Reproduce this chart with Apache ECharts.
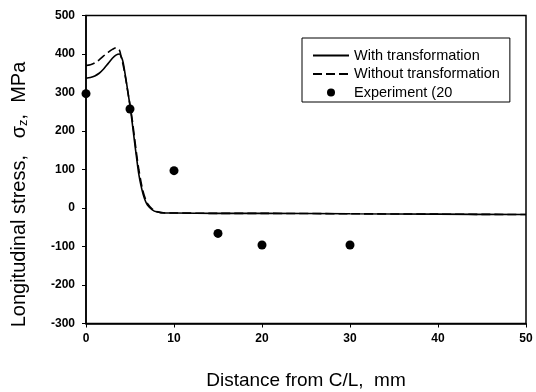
<!DOCTYPE html>
<html>
<head>
<meta charset="utf-8">
<script src="https://cdn.jsdelivr.net/npm/echarts@6/dist/echarts.min.js"></script>
<style>html,body{margin:0;padding:0;background:#fff}#c{width:536px;height:392px}</style>
</head>
<body>
<div id="c"></div>
<script>
// Distance from C/L (mm) for the model curves
const curveX = [0, 0.5, 1, 1.5, 2, 2.5, 3, 3.4, 3.8, 4.0, 4.2, 4.5, 4.75, 5.0, 5.25, 5.5, 5.75, 6.0, 6.25, 6.5, 6.75, 7.0, 7.5, 8, 9, 10, 15, 20, 30, 40, 50];
// With transformation (solid)
const withTransformation = [337, 339, 343, 350, 361, 375, 389, 397, 400, 393, 380, 340, 303, 265, 222, 175, 130, 88, 58, 35, 18, 7, -4, -10, -13, -13, -14, -14, -15, -16, -17];
// Without transformation (dashed)
const withoutTransformation = [370, 372, 377, 385, 395, 404, 412, 416, 410, 392, 374, 337, 302, 268, 230, 185, 140, 100, 68, 42, 24, 11, -2, -9, -13, -13, -14, -14, -15, -16, -17];
// Experiment points
const expX = [0, 5, 10, 15, 20, 30];
const expY = [297, 257, 97, -66, -96, -96];
// Names
const seriesNames = ['With transformation', 'Without transformation', 'Experiment (20'];

const pair = (xs, ys) => xs.map((x, i) => [x, ys[i]]);
const FONT = '"Liberation Sans", Arial, sans-serif';

const chart = echarts.init(document.getElementById('c'), null, {renderer: 'canvas'});
chart.setOption({
  animation: false,
  backgroundColor: '#fff',
  grid: {left: 86, right: 10, top: 15.5, bottom: 68.5, outerBoundsMode: 'none', containLabel: false,
    show: true, borderColor: '#000', borderWidth: 1.5, backgroundColor: 'transparent'},
  legend: {
    orient: 'vertical', left: 302, top: 38,
    padding: [10, 10, 2, 10], itemGap: 3.5, itemWidth: 36, itemHeight: 8,
    borderColor: '#000', borderWidth: 1, backgroundColor: '#fff', borderRadius: 0,
    textStyle: {fontFamily: FONT, fontSize: 14.5, color: '#000'},
    data: [
      {name: seriesNames[0], itemStyle: {opacity: 0}},
      {name: seriesNames[1], itemStyle: {opacity: 0}},
      {name: seriesNames[2], icon: 'circle'}
    ]
  },
  xAxis: {
    type: 'value', min: 0, max: 50, interval: 10,
    name: 'Distance from C/L,  mm', nameLocation: 'middle', nameGap: 48,
    nameTextStyle: {fontFamily: FONT, fontSize: 19, color: '#000'},
    axisLine: {onZero: false, lineStyle: {color: '#000', width: 1.5}},
    axisTick: {show: true, inside: false, length: 4, lineStyle: {color: '#000', width: 1}},
    axisLabel: {fontFamily: FONT, fontSize: 12, fontWeight: 'bold', color: '#000', margin: 9},
    splitLine: {show: false}
  },
  yAxis: {
    type: 'value', min: -300, max: 500, interval: 100,
    name: '{n|Longitudinal stress,   σ}{s|z}{n|,  MPa}', nameLocation: 'middle', nameGap: 56, nameRotate: 90,
    nameTextStyle: {
      fontFamily: FONT, fontSize: 20, color: '#000', padding: [0, 50, 0, 0],
      rich: {
        n: {fontFamily: FONT, fontSize: 20, color: '#000'},
        s: {fontFamily: FONT, fontSize: 13, color: '#000', verticalAlign: 'bottom', padding: [9, 0, 0, 0]}
      }
    },
    axisLine: {show: true, onZero: false, lineStyle: {color: '#000', width: 1.5}},
    axisTick: {show: true, inside: false, length: 4, lineStyle: {color: '#000', width: 1}},
    axisLabel: {fontFamily: FONT, fontSize: 12, fontWeight: 'bold', color: '#000', margin: 11},
    splitLine: {show: false}
  },
  series: [
    {
      name: seriesNames[0], type: 'line', data: pair(curveX, withTransformation),
      showSymbol: false, symbol: 'none', smooth: 0.3,
      lineStyle: {color: '#000', width: 1.6, type: 'solid'}, itemStyle: {color: '#000'}, z: 3
    },
    {
      name: seriesNames[1], type: 'line', data: pair(curveX, withoutTransformation),
      showSymbol: false, symbol: 'none', smooth: 0.3,
      lineStyle: {color: '#000', width: 1.6, type: [9, 4]}, itemStyle: {color: '#000'}, z: 2
    },
    {
      name: seriesNames[2], type: 'scatter', data: pair(expX, expY),
      symbol: 'circle', symbolSize: 9, itemStyle: {color: '#000', opacity: 1}, z: 4
    }
  ]
});
</script>
</body>
</html>
